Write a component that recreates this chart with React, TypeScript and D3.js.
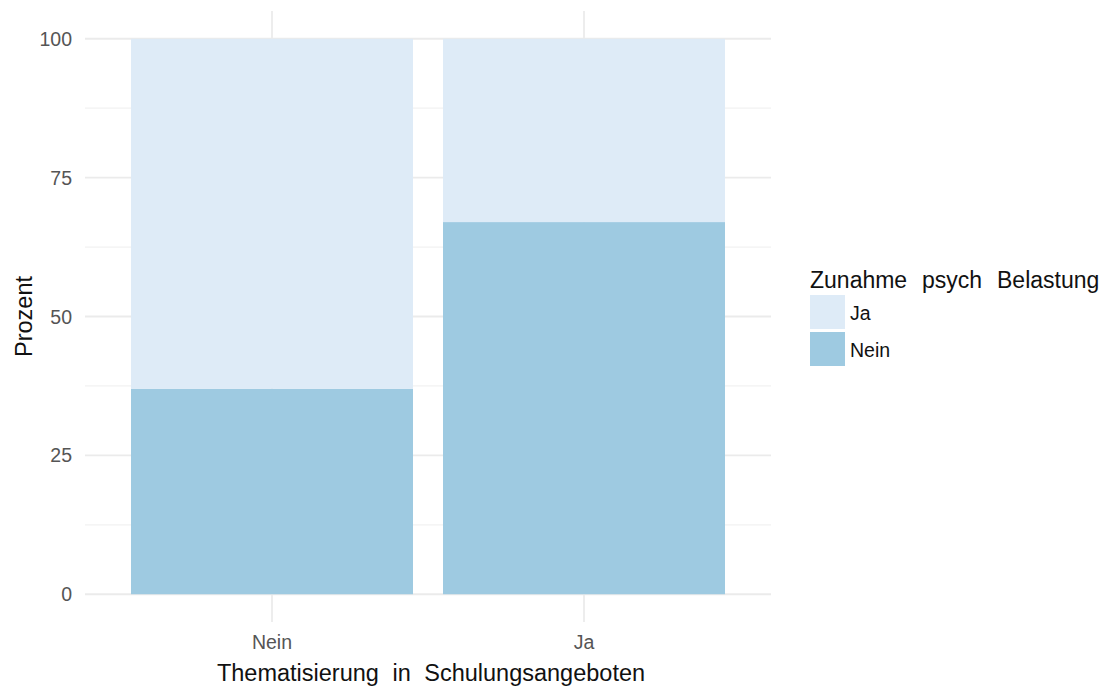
import React from "react";
import * as d3 from "d3";

const categories = ["Nein", "Ja"];
const seriesKeys = ["Nein", "Ja"]; // stack order bottom -> top
const neinValues = [37, 67];
const jaValues = [63, 33];
const yTicks = [0, 25, 50, 75, 100];
const yMinor = [12.5, 37.5, 62.5, 87.5];
const legendItems = ["Ja", "Nein"];
const colors: Record<string, string> = { Ja: "#deebf7", Nein: "#9ecae1" };

export default function App() {
  const W = 1106, H = 686;
  const panel = { left: 85, right: 771, top: 11, bottom: 622 };
  const xCenter = d3.scalePoint<string>().domain(categories).range([272, 584]);
  const y = d3.scaleLinear().domain([-5, 105]).range([panel.bottom, panel.top]);
  const rows = categories.map((c, i) => ({ cat: c, Nein: neinValues[i], Ja: jaValues[i] }));
  const stacked = d3.stack<any>().keys(seriesKeys)(rows);
  const bw = 282;
  const font = "'Liberation Sans', Arial, sans-serif";
  return (
    <svg width={W} height={H} style={{ position: "absolute", left: 0, top: 0 }} fontFamily={font}>
      <rect width={W} height={H} fill="#fff" />
      {yMinor.map(t => (
        <line key={"m" + t} x1={panel.left} x2={panel.right} y1={y(t)} y2={y(t)} stroke="#f2f2f2" strokeWidth={1.2} />
      ))}
      {yTicks.map(t => (
        <line key={"g" + t} x1={panel.left} x2={panel.right} y1={y(t)} y2={y(t)} stroke="#ebebeb" strokeWidth={1.8} />
      ))}
      {categories.map(c => (
        <line key={"v" + c} x1={xCenter(c)} x2={xCenter(c)} y1={panel.top} y2={panel.bottom} stroke="#ebebeb" strokeWidth={1.8} />
      ))}
      {stacked.map(s => s.map((d, i) => (
        <rect key={s.key + i} x={(xCenter(categories[i]) as number) - bw / 2} width={bw}
          y={y(d[1])} height={y(d[0]) - y(d[1])} fill={colors[s.key]} />
      )))}
      {yTicks.map(t => (
        <text key={"t" + t} x={72} y={y(t)} dy="0.36em" textAnchor="end" fontSize={19.5} fill="#555">{t}</text>
      ))}
      {categories.map(c => (
        <text key={"xt" + c} x={xCenter(c)} y={649} textAnchor="middle" fontSize={19.5} fill="#555">{c}</text>
      ))}
      <text x={(panel.left + panel.right) / 2 + 3} y={681} textAnchor="middle" fontSize={23.5} fill="#111" wordSpacing={7}>
        Thematisierung in Schulungsangeboten
      </text>
      <text transform={`translate(32,${(y(0) + y(100)) / 2}) rotate(-90)`} textAnchor="middle" fontSize={23.5} fill="#111">Prozent</text>
      <text x={810} y={288} fontSize={23} fill="#111" wordSpacing={8.5}>Zunahme psych Belastung</text>
      {legendItems.map((k, i) => (
        <g key={"l" + k}>
          <rect x={810} y={295 + i * 37} width={35} height={34} fill={colors[k]} />
          <text x={850} y={320 + i * 37} fontSize={19.5} fill="#111">{k}</text>
        </g>
      ))}
    </svg>
  );
}
